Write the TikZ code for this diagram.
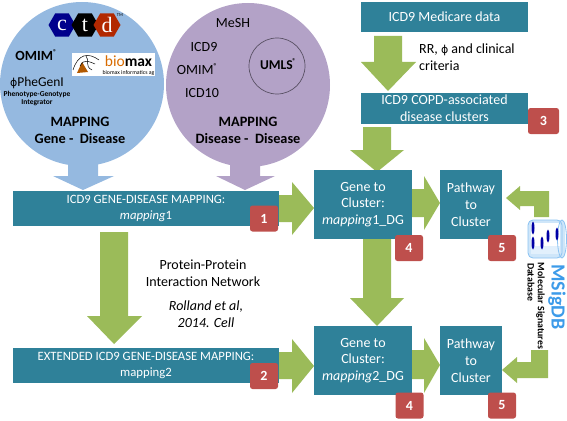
\documentclass[tikz,border=0pt]{standalone}
\usepackage{fontspec}
\setmainfont{Carlito}
\newfontfamily\dejavu{DejaVu Sans}
\newfontfamily\serifb{Liberation Serif}
\definecolor{teal1}{HTML}{2F8199}
\definecolor{green1}{HTML}{9BBB59}
\definecolor{red1}{HTML}{BE4F4C}
\definecolor{blue1}{HTML}{95B9E0}
\definecolor{purple1}{HTML}{B3A2C7}
\definecolor{msig}{HTML}{3D9BE9}
\usetikzlibrary{shapes.geometric,positioning}
\tikzset{x=1pt,y=-1pt,
 tealbox/.style={fill=teal1,text=white,align=center,inner sep=0pt,font=\fontsize{14}{16.8}\selectfont},
 widebox/.style={tealbox,minimum width=266pt,minimum height=35pt,font=\fontsize{12.7}{15.5}\selectfont},
 badge/.style={fill=red1,rounded corners=2.5pt,text=white,font=\bfseries\fontsize{14}{14}\selectfont,inner sep=0pt,minimum width=28pt,minimum height=26pt},
 garrow/.style={fill=green1,draw=none},
 blabel/.style={align=center,font=\fontsize{14}{16.5}\selectfont,inner sep=0pt},
 bold/.style={align=center,font=\bfseries\fontsize{14.3}{17}\selectfont,inner sep=0pt},
 hex/.style={regular polygon,regular polygon sides=6,minimum size=27pt,inner sep=0pt,text=white,font=\serifb\fontsize{22}{22}\selectfont}}
\newcommand{\regsup}{\raisebox{0.45em}{\fontsize{7}{7}\selectfont\bfseries ®}}
\begin{document}
\begin{tikzpicture}
\useasboundingbox (0,0) rectangle (567,420);
% circles
\fill[blue1] (82,84) circle[radius=82];
\fill[blue1] (68,160) -- (98,160) -- (98,176) -- (114,176) -- (83,190) -- (53,176) -- (68,176) -- cycle;
\fill[purple1] (248,85) circle[radius=82];
\fill[purple1] (230,160) -- (260,160) -- (260,176) -- (275,176) -- (245,190) -- (216,176) -- (230,176) -- cycle;
\draw[draw=purple1!50!black,line width=0.7pt] (277,66) circle[radius=28];
% ctd logo
\node[hex,fill=blue!55!black] (hc) at (62,25) {c};
\node[hex,fill=black] (ht) at (85,25) {t};
\node[hex,fill=orange!45!red!70!black] (hd) at (107,25) {d};
\node[font=\fontsize{4.5}{4.5}\selectfont,inner sep=0pt] (tm) at (120,15) {TM};
% labels in blue circle
\node[font=\bfseries\fontsize{14}{14}\selectfont,inner sep=0pt] (omim1) at (36,55) {OMIM\regsup};
\node[fill=white,minimum width=83pt,minimum height=23pt,inner sep=0pt] (bmx) at (113.5,64.5) {};
\node[inner sep=0pt,font=\fontsize{15.5}{15.5}\selectfont] (bmxt) at (128.5,61) {\textcolor{orange!85!black}{bio}\textbf{max}};
\node[inner sep=0pt,font=\fontsize{5.8}{6}\selectfont] (bmxs) at (128.5,73) {biomax informatics ag};
\fill[orange!70!black] (77,73) -- (82,62) -- (88,72) -- cycle;
\draw[black,line width=0.5pt] (73,70) .. controls (78,54) and (88,52) .. (99,60);
\draw[black,line width=0.5pt] (80,66) .. controls (84,58) and (90,62) .. (95,64);
\draw[black,line width=0.5pt] (86,56) .. controls (90,60) and (84,66) .. (92,70);
\node[inner sep=0pt,font=\fontsize{13.5}{13.5}\selectfont] (phe) at (37,83) {{\dejavu\fontsize{11}{11}\selectfont ϕ}PheGenI};
\node[align=center,inner sep=0pt,font=\bfseries\fontsize{7.5}{7.5}\selectfont] (phes) at (37,98.5) {Phenotype-Genotype\\Integrator};
\node[bold] (m1) at (80,130) {MAPPING\\Gene -\ \ Disease};
% purple labels
\node[blabel] (mesh) at (233,23) {MeSH};
\node[blabel] (i9) at (204,47) {ICD9};
\node[blabel] (om2) at (197,69) {OMIM\regsup};
\node[blabel] (i10) at (202,93) {ICD10};
\node[inner sep=0pt,font=\bfseries\fontsize{13.5}{13.5}\selectfont] (um) at (278,64) {UMLS\hspace{-0.5pt}\regsup};
\node[bold] (m2) at (248,130) {MAPPING\\Disease -\ \ Disease};
% green arrows
\fill[garrow] (100,232) -- (128,232) -- (128,316) -- (142,316) -- (114,344) -- (87,316) -- (100,316) -- cycle;
\fill[garrow] (374,36) -- (402,36) -- (402,62) -- (416,62) -- (388,91) -- (361,62) -- (374,62) -- cycle;
\fill[garrow] (363,127) -- (391,127) -- (391,150) -- (404,150) -- (377,172) -- (350,150) -- (363,150) -- cycle;
\fill[garrow] (363,239) -- (391,239) -- (391,298) -- (404,298) -- (377,326) -- (350,298) -- (363,298) -- cycle;
\fill[garrow] (279,195) -- (292,195) -- (292,182) -- (314,208) -- (292,235) -- (292,222) -- (279,222) -- cycle;
\fill[garrow] (279,352) -- (292,352) -- (292,339) -- (314,366) -- (292,393) -- (292,379) -- (279,379) -- cycle;
\fill[garrow] (409,189) -- (424,189) -- (424,176) -- (440,203) -- (424,230) -- (424,217) -- (409,217) -- cycle;
\fill[garrow] (409,350) -- (424,350) -- (424,338) -- (440,365) -- (424,393) -- (424,379) -- (409,379) -- cycle;
\fill[garrow] (506,198) -- (520,186) -- (520,191) -- (549,191) -- (549,217) -- (534,217) -- (534,206) -- (520,206) -- (520,210) -- cycle;
\fill[garrow] (502,370) -- (517,357) -- (517,362) -- (531,362) -- (531,350) -- (548,350) -- (548,378) -- (517,378) -- (517,383) -- cycle;
% boxes
\node[tealbox,minimum width=167pt,minimum height=30pt] (med) at (444.5,17) {ICD9 Medicare data};
\node[tealbox,minimum width=167pt,minimum height=31pt] (copd) at (444.5,108.5) {ICD9 COPD-associated\\disease clusters};
\node[widebox] (map1) at (146,208.5) {ICD9 GENE-DISEASE MAPPING:\\\textit{mapping}1};
\node[widebox] (map2) at (146,365.5) {EXTENDED ICD9 GENE-DISEASE MAPPING:\\mapping2};
\node[tealbox,minimum width=98pt,minimum height=69pt] (g1) at (363,204.5) {Gene to\\Cluster:\\\textit{mapping}1\_DG};
\node[tealbox,minimum width=98pt,minimum height=69pt] (g2) at (363,360.5) {Gene to\\Cluster:\\\textit{mapping}2\_DG};
\node[tealbox,minimum width=62pt,minimum height=69pt] (p1) at (471,204.5) {Pathway\\to\\Cluster};
\node[tealbox,minimum width=62pt,minimum height=69pt] (p2) at (471,360.5) {Pathway\\to\\Cluster};
% badges
\node[badge] (b1) at (264,218.5) {1};
\node[badge] (b2) at (264,376) {2};
\node[badge,minimum width=31pt] (b3) at (543.5,121) {3};
\node[badge] (b4a) at (409,248) {4};
\node[badge] (b4b) at (409.5,405.5) {4};
\node[badge] (b5a) at (502,248) {5};
\node[badge] (b5b) at (502,405.5) {5};
% free text
\node[anchor=west,align=left,inner sep=0pt,font=\fontsize{14}{16.8}\selectfont] (rr) at (419,57.5) {RR, {\dejavu\fontsize{11}{11}\selectfont ϕ} and clinical\\criteria};
\node[blabel] (ppi) at (203,273) {Protein-Protein\\Interaction Network};
\node[blabel,font=\itshape\fontsize{14}{16.8}\selectfont] (rol) at (206,314) {Rolland et al,\\2014. Cell};
% MSigDB
\fill[msig!25,rounded corners=4pt] (528,220) rectangle (565,258);
\fill[white] (531,223) rectangle (560,254);
\fill[msig!15] (531,246) rectangle (560,254);
\draw[msig!60,line width=0.8pt,rounded corners=5pt] (528,220) rectangle (562,258);
\draw[msig!60,line width=0.8pt] (562,239) ellipse[x radius=4.5,y radius=19];
\foreach \px/\py in {533/228,533/243,542/243,548/236,557/234}{\fill[blue!65!black] (\px,\py) ellipse[x radius=1.5,y radius=6.5];}
\node[rotate=-90,inner sep=0pt,font=\bfseries\fontsize{20}{20}\selectfont,text=msig] (msg) at (557,297) {MSigDB};
\node[rotate=-90,inner sep=0pt,font=\bfseries\fontsize{9.8}{10}\selectfont] (msm) at (540.5,306) {Molecular Signatures};
\node[rotate=-90,inner sep=0pt,font=\bfseries\fontsize{9.8}{10}\selectfont] (msd) at (531,282) {Database};
\end{tikzpicture}
\end{document}
